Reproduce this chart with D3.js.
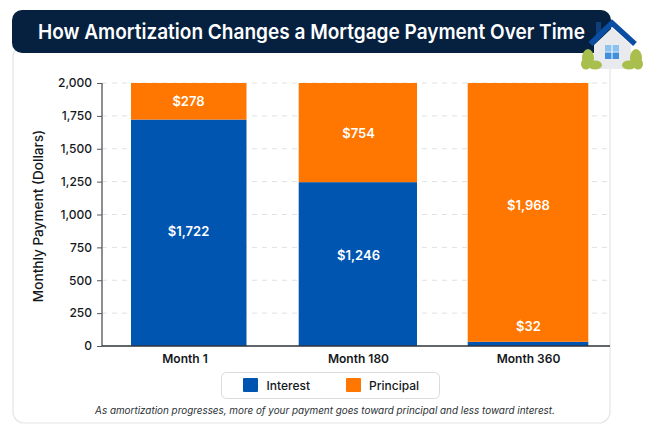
<!DOCTYPE html>
<html><head><meta charset="utf-8">
<script src="https://cdn.jsdelivr.net/npm/d3@7"></script>
<style>
html,body{margin:0;padding:0;background:#fff}
svg{display:block}
text{font-family:Inter,"Liberation Sans",sans-serif}
</style></head><body>
<svg id="c" width="650" height="433"></svg>
<script>
const categories = ["Month 1","Month 180","Month 360"];
const interest = [1722,1246,32];
const principal = [278,754,1968];
const yTicks = [0,250,500,750,1000,1250,1500,1750,2000];
const seriesNames = ["Interest","Principal"];
const seriesColors = ["#0055b0","#ff7600"];
const titleText = "How Amortization Changes a Mortgage Payment Over Time";
const noteText = "As amortization progresses, more of your payment goes toward principal and less toward interest.";
const yTitle = "Monthly Payment (Dollars)";

const svg = d3.select("#c");
svg.append("rect").attr("x",13).attr("y",46).attr("width",597).attr("height",377).attr("rx",11)
  .attr("fill","#fff").attr("stroke","#e4e5e7").attr("stroke-width",1.2);
svg.append("rect").attr("x",12).attr("y",10).attr("width",599).attr("height",43).attr("rx",10).attr("fill","#05213f");
svg.append("text").attr("x",38).attr("y",39).attr("fill","#fff")
  .attr("font-size",20.5).attr("font-weight",600).attr("textLength",547).attr("lengthAdjust","spacingAndGlyphs").text(titleText);

const x = d3.scaleBand().domain(categories).range([103.5,613.5]).paddingInner(0.3).paddingOuter(0.15);
const y = d3.scaleLinear().domain([0,2000]).range([346,83]);
const X0=102, X1=610;
const insetL=[2,-0.3,-1.3], insetR=[1.5,1,-0.3];

svg.append("g").selectAll("line").data(yTicks.filter(d=>d>0)).join("line")
  .attr("x1",X0).attr("x2",X1).attr("y1",d=>y(d)).attr("y2",d=>y(d))
  .attr("stroke","#dfe1e4").attr("stroke-width",1).attr("stroke-dasharray","5 5");

const stack = categories.map((c,i)=>({c,interest:interest[i],principal:principal[i]}));
const cols = [["interest",seriesColors[0]],["principal",seriesColors[1]]];
const bars = svg.append("g"), labels = svg.append("g");
// label placement within a segment (fraction of segment height from its base)
const labelFrac = {interest:[0.51,0.555,null],principal:[0.5,0.5,0.53]};
stack.forEach((d,i)=>{
  let base=0;
  cols.forEach(([k,col])=>{
    const top=base+d[k];
    bars.append("rect").attr("x",x(d.c)+insetL[i]).attr("width",x.bandwidth()-insetL[i]-insetR[i])
      .attr("y",y(top)).attr("height",y(base)-y(top)).attr("fill",col);
    const f=labelFrac[k][i];
    labels.append("text").attr("x",x(d.c)+x.bandwidth()/2)
      .attr("y",f===null? y(top)-11 : y(base+d[k]*f)+5)
      .attr("text-anchor","middle").attr("fill","#fff").attr("font-size",13).attr("font-weight",600)
      .text("$"+d3.format(",")(d[k]));
    base=top;
  });
});

const ya = svg.append("g").attr("transform",`translate(${X0},0)`)
  .call(d3.axisLeft(y).tickValues(yTicks).tickFormat(d3.format(",")).tickSize(5).tickPadding(5));
ya.select(".domain").attr("stroke","#808286").attr("stroke-width",1.8).attr("d",`M0,${y(2000)}V${y(0)}`);
ya.selectAll(".tick line").attr("stroke","#55585c").attr("stroke-width",1);
ya.selectAll("text").attr("font-size",12).attr("font-weight",500).attr("fill","#14181d").style("font-family","Inter");

const xa = svg.append("g").attr("transform",`translate(0,346)`)
  .call(d3.axisBottom(x).tickSize(0).tickPadding(8.5));
xa.select(".domain").attr("stroke","#2c333b").attr("stroke-width",1.4).attr("d",`M${X0},0H${X1}`);
xa.selectAll("text").attr("font-size",12).attr("font-weight",600).attr("fill","#14181d").style("font-family","Inter")
  .attr("dx",(d,i)=>i===0?-3.5:0);

svg.append("text").attr("transform","translate(43,216) rotate(-90)").attr("text-anchor","middle")
  .attr("font-size",13.6).attr("font-weight",500).attr("fill","#14181d").text(yTitle);

// legend
svg.append("rect").attr("x",221.5).attr("y",372.5).attr("width",218).attr("height",26).attr("rx",5)
  .attr("fill","#fff").attr("stroke","#d9dbde").attr("stroke-width",1);
const lx=[243,346], tx=[266.5,369];
seriesNames.forEach((n,i)=>{
  svg.append("rect").attr("x",lx[i]).attr("y",378).attr("width",15).attr("height",14).attr("rx",1).attr("fill",seriesColors[i]);
  svg.append("text").attr("x",tx[i]).attr("y",390).attr("font-size",12).attr("font-weight",500).attr("fill","#14181d").text(n);
});

svg.append("text").attr("x",325).attr("y",414).attr("text-anchor","middle").attr("font-size",9.9)
  .attr("font-style","italic").attr("fill","#2a2f35").text(noteText);

// house icon
const h = svg.append("g");
const bush=(cx,cy,rx,ry,c)=>h.append("ellipse").attr("cx",cx).attr("cy",cy).attr("rx",rx).attr("ry",ry).attr("fill",c);
h.append("rect").attr("x",596).attr("y",22).attr("width",5).attr("height",14).attr("fill","#0f3f7a");
h.append("path").attr("d","M594,45 L612,28 L631,45 L631,69 L594,69 Z").attr("fill","#e8eaed");
h.append("path").attr("d","M590.5,44 L612,23 L635,44").attr("fill","none").attr("stroke","#0a4ea3").attr("stroke-width",5.5);
h.append("rect").attr("x",605).attr("y",45).attr("width",14).attr("height",14).attr("fill","#3f8fdc");
h.append("rect").attr("x",605).attr("y",45).attr("width",14).attr("height",6.5).attr("fill","#8cc2ef");
h.append("path").attr("d","M612,45V59M605,52H619").attr("stroke","#fff").attr("stroke-width",1);
[[588,58,6,9],[586,64,5,5.5],[595,65,7,4.5],[636,58,6,9],[638,64,5,5.5],[629,65,7,4.5]].forEach(b=>bush(b[0],b[1],b[2],b[3],"#a8bf4e"));
</script>
</body></html>
